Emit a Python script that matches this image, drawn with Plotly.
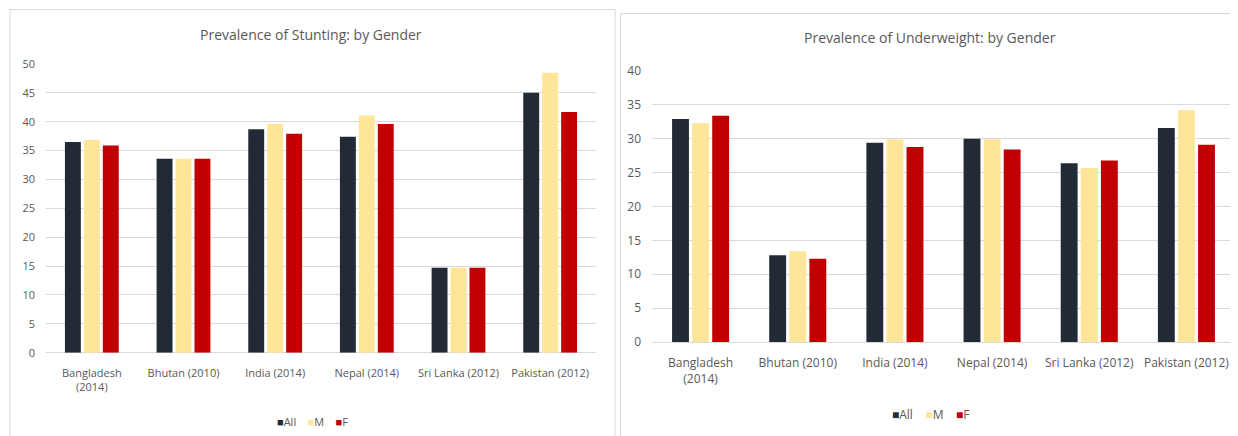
import plotly.graph_objects as go

categories = ["Bangladesh<br>(2014)", "Bhutan (2010)", "India (2014)", "Nepal (2014)", "Sri Lanka (2012)", "Pakistan (2012)"]

stunting_all = [36.5, 33.6, 38.7, 37.4, 14.7, 45.0]
stunting_m = [36.9, 33.6, 39.6, 41.1, 14.7, 48.5]
stunting_f = [35.9, 33.6, 37.9, 39.6, 14.7, 41.7]

under_all = [32.9, 12.8, 29.4, 30.0, 26.4, 31.6]
under_m = [32.3, 13.4, 29.9, 29.9, 25.7, 34.2]
under_f = [33.4, 12.3, 28.8, 28.4, 26.8, 29.1]

series_names = ["All", "M", "F"]
colors = ["#222a35", "#ffe599", "#c00000"]

# page body has an 8px margin, so the figure starts at (8, 8) on screen
OFF = 8
W, H = 1230, 428
FONT = "Open Sans"
TXT = "#595959"

fig = go.Figure()

for name, vals, col in zip(series_names, [stunting_all, stunting_m, stunting_f], colors):
    fig.add_trace(go.Bar(x=categories, y=vals, name=name, marker=dict(color=col, line=dict(width=0)),
                         xaxis="x", yaxis="y", showlegend=False))
for name, vals, col in zip(series_names, [under_all, under_m, under_f], colors):
    fig.add_trace(go.Bar(x=categories, y=vals, name=name, marker=dict(color=col, line=dict(width=0)),
                         xaxis="x2", yaxis="y2", showlegend=False))

def px_x(p):
    return (p - OFF) / W

def px_y(p):
    return 1 - (p - OFF) / H

def xax(dom, anchor, size, standoff):
    return dict(domain=dom, anchor=anchor, showgrid=False, showline=False, ticks="", automargin=False,
                ticklabelstandoff=standoff,
                tickfont=dict(family=FONT, size=size, color=TXT), fixedrange=True)

def yax(dom, anchor, rng, size):
    return dict(domain=dom, anchor=anchor, range=rng, dtick=5, showgrid=True, gridcolor="#d9d9d9",
                zeroline=True, zerolinecolor="#d9d9d9", zerolinewidth=1, showline=False, ticks="",
                ticklabelstandoff=10, automargin=False,
                tickfont=dict(family=FONT, size=size, color=TXT), fixedrange=True)

def legend_text(sq):
    parts = []
    for name, col in zip(series_names, colors):
        parts.append(f"<span style='color:{col};font-size:{sq}px'>■</span>{name}")
    return "&nbsp;&nbsp;&nbsp;&nbsp;".join(parts)

fig.update_layout(
    width=W, height=H,
    margin=dict(l=0, r=0, t=0, b=0, autoexpand=False),
    paper_bgcolor="white", plot_bgcolor="white",
    barmode="group", bargap=0.38, bargroupgap=0.16,
    font=dict(family=FONT, color=TXT),
    xaxis=xax([px_x(46), px_x(596)], "y", 11, 12),
    yaxis=yax([px_y(352.7), px_y(64)], "x", [0, 50], 11),
    xaxis2=xax([px_x(652), px_x(1235)], "y2", 12, 12),
    yaxis2=yax([px_y(342), px_y(71)], "x2", [0, 40], 12),
    annotations=[
        dict(text="Prevalence of Stunting: by Gender", x=px_x(311), y=px_y(35), xref="paper", yref="paper",
             showarrow=False, xanchor="center", yanchor="middle", font=dict(family=FONT, size=14, color=TXT)),
        dict(text="Prevalence of Underweight: by Gender", x=px_x(930), y=px_y(37), xref="paper", yref="paper",
             showarrow=False, xanchor="center", yanchor="middle", font=dict(family=FONT, size=14, color=TXT)),
        dict(text=legend_text(11), x=px_x(312), y=px_y(421), xref="paper", yref="paper",
             showarrow=False, xanchor="center", yanchor="middle", font=dict(family=FONT, size=11, color=TXT)),
        dict(text=legend_text(12), x=px_x(930), y=px_y(414), xref="paper", yref="paper",
             showarrow=False, xanchor="center", yanchor="middle", font=dict(family=FONT, size=12, color=TXT)),
    ],
    shapes=[
        dict(type="rect", xref="paper", yref="paper", x0=px_x(10), x1=px_x(615), y0=px_y(445), y1=px_y(9.5),
             line=dict(color="#d9d9d9", width=1), fillcolor="rgba(0,0,0,0)", layer="below"),
        dict(type="rect", xref="paper", yref="paper", x0=px_x(620.5), x1=px_x(1245), y0=px_y(445), y1=px_y(13.5),
             line=dict(color="#d9d9d9", width=1), fillcolor="rgba(0,0,0,0)", layer="below"),
    ],
)

fig.write_html("out.html")
